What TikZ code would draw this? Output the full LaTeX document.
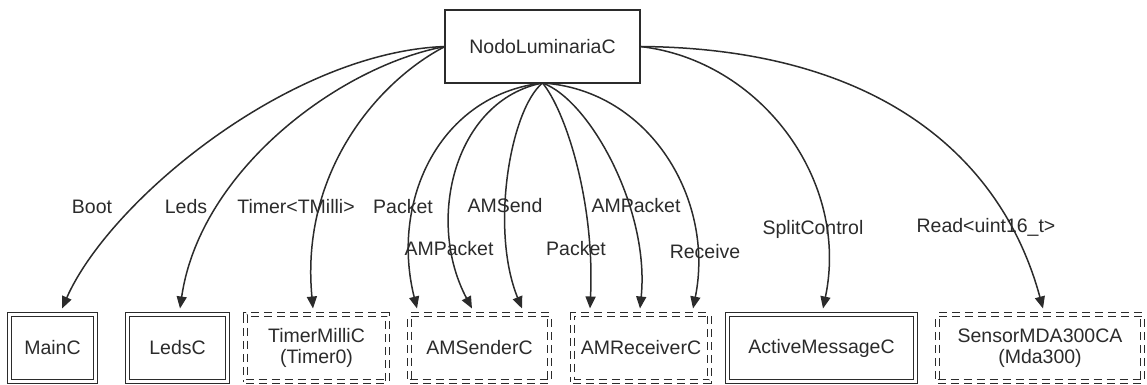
\documentclass[tikz,border=0pt]{standalone}
\usepackage{fontspec}
\setmainfont{Liberation Sans}
\usetikzlibrary{arrows.meta}
\definecolor{ink}{HTML}{2B2B2B}
\begin{document}
\begin{tikzpicture}[x=1pt,y=-1pt,
  font=\fontsize{19.5}{21.5}\selectfont,
  every node/.style={text=ink},
  box/.style={draw=ink, line width=1.4pt, inner sep=0pt, outer sep=0pt, align=center},
  dblbox/.style={box, double, double distance=3.5pt, line width=1.2pt, minimum height=67pt},
  dashbox/.style={dblbox, dash pattern=on 8pt off 5pt},
  edge/.style={draw=ink, line width=1.5pt, -{Triangle[length=12pt,width=10pt]}},
  lbl/.style={inner sep=1pt}
]
\useasboundingbox (0,0) rectangle (1147,385);

% top node
\node[box, minimum width=195pt, minimum height=73pt] (top) at (542.5,46.5) {NodoLuminariaC};

% bottom nodes
\node[dblbox, minimum width=86pt]  (mainc) at (52.5,348) {MainC};
\node[dblbox, minimum width=100pt] (ledsc) at (177.5,348) {LedsC};
\node[dashbox, minimum width=142pt] (timer) at (316.5,348) {TimerMilliC\\(Timer0)};
\node[dashbox, minimum width=140pt] (sender) at (479.5,348) {AMSenderC};
\node[dashbox, minimum width=137pt] (recv) at (641,348) {AMReceiverC};
\node[dblbox, minimum width=188pt] (active) at (821.5,348) {ActiveMessageC};
\node[dashbox, minimum width=205pt] (sensor) at (1040,348) {SensorMDA300CA\\(Mda300)};

% edges
\draw[edge] (top.west) .. controls (290,52) and (110,200) .. ([xshift=9.5pt,yshift=6pt]mainc.north);
\draw[edge] (top.west) .. controls (340,66) and (200,170) .. ([xshift=2.5pt,yshift=6pt]ledsc.north);
\draw[edge] (top.west) .. controls (380,80) and (300,170) .. ([xshift=-3.5pt,yshift=6pt]timer.north);
\draw[edge] (top.south) .. controls (440,95) and (390,200) .. ([xshift=-62.5pt,yshift=6pt]sender.north);
\draw[edge] (top.south) .. controls (455,100) and (425,220) .. ([xshift=-7.5pt,yshift=6pt]sender.north);
\draw[edge] (top.south) .. controls (510,110) and (490,230) .. ([xshift=42.5pt,yshift=6pt]sender.north);
\draw[edge] (top.south) .. controls (565,110) and (595,200) .. ([xshift=-51pt,yshift=6pt]recv.north);
\draw[edge] (top.south) .. controls (590,100) and (650,210) .. ([xshift=-1pt,yshift=6pt]recv.north);
\draw[edge] (top.south) .. controls (650,90) and (715,200) .. ([xshift=52pt,yshift=6pt]recv.north);
\draw[edge] (top.east) .. controls (760,60) and (850,180) .. ([xshift=1.5pt,yshift=6pt]active.north);
\draw[edge] (top.east) .. controls (870,48) and (1000,150) .. ([xshift=3pt,yshift=6pt]sensor.north);

% labels
\node[lbl] (lboot) at (92,207) {Boot};
\node[lbl] (lleds) at (186,207) {Leds};
\node[lbl] (ltimer) at (296,207) {Timer<TMilli>};
\node[lbl] (lpack1) at (403,207) {Packet};
\node[lbl] (lampk1) at (449,249) {AMPacket};
\node[lbl] (lamsend) at (505,206) {AMSend};
\node[lbl] (lampk2) at (636,206) {AMPacket};
\node[lbl] (lpack2) at (576,249) {Packet};
\node[lbl] (lrecv) at (705,252) {Receive};
\node[lbl] (lsplit) at (813,229) {SplitControl};
\node[lbl] (lread) at (986,227) {Read<uint16\_t>};
\end{tikzpicture}
\end{document}
